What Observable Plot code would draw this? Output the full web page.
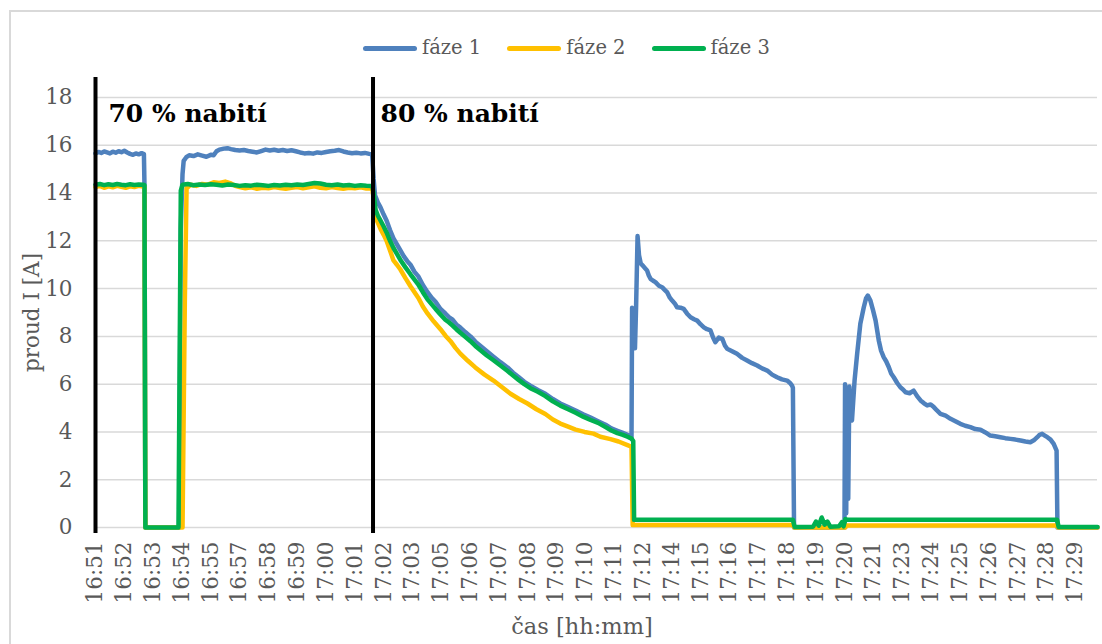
<!DOCTYPE html>
<html>
<head>
<meta charset="utf-8">
<script src="https://cdn.jsdelivr.net/npm/d3@7"></script>
<script src="https://cdn.jsdelivr.net/npm/@observablehq/plot@0.6"></script>
<style>
  html, body { margin: 0; padding: 0; background: #fff; }
  body { width: 1102px; height: 644px; position: relative; overflow: hidden; font-family: "DejaVu Serif", serif; color: #595959; }
  #frame { position: absolute; left: 9px; top: 10px; width: 1110px; height: 650px; border: 2px solid #d9d9d9; box-sizing: border-box; }
  #legend { position: absolute; left: 363px; top: 37px; display: flex; align-items: center; font-size: 19.5px; line-height: 22px; }
  #legend .item { display: flex; align-items: center; margin-right: 26px; }
  #legend .sw { width: 54px; height: 5px; border-radius: 3px; margin-right: 5px; }
  #chart { position: absolute; left: 0; top: 70px; }
  #xtitle { position: absolute; left: 582px; top: 613px; transform: translateX(-50%); font-size: 22.5px; line-height: 26px; white-space: nowrap; }
</style>
</head>
<body>
<div id="frame"></div>
<div id="legend"></div>
<div id="chart"></div>
<div id="xtitle"></div>
<script>
// ---- data ----
const seriesNames = ["fáze 1", "fáze 2", "fáze 3"];
const seriesColors = ["#4f81bd", "#ffc000", "#00b050"];
const tickLabels = ["16:51","16:52","16:53","16:54","16:55","16:57","16:58","16:59","17:00","17:01",
  "17:02","17:03","17:05","17:06","17:07","17:08","17:09","17:10","17:11","17:12",
  "17:14","17:15","17:16","17:17","17:18","17:19","17:20","17:21","17:23","17:24",
  "17:25","17:26","17:27","17:28","17:29"];
const yTicks = [0, 2, 4, 6, 8, 10, 12, 14, 16, 18];
const xTitle = "čas [hh:mm]";
const yTitle = "proud I [A]";
const markerTimes = [0, 9.63];
const markerSpan = [-0.25, 18.84];
const annotations = [
  {t: 0.45, I: 17.3, text: "70 % nabití"},
  {t: 9.89, I: 17.3, text: "80 % nabití"}
];

// [time slot, current A]
const phase1 = [[0,15.66],[0.1,15.72],[0.2,15.68],[0.3,15.74],[0.4,15.7],[0.5,15.66],[0.6,15.73],[0.7,15.69],[0.8,15.75],[0.9,15.71],[1.0,15.77],[1.1,15.7],[1.2,15.64],[1.3,15.6],[1.4,15.66],[1.5,15.62],[1.6,15.67],[1.68,15.63],[1.7,14.3],[1.73,0],
[2.9,0],[2.96,12.5],[3.02,14.8],[3.06,15.35],[3.15,15.5],[3.25,15.58],[3.4,15.55],[3.55,15.62],[3.7,15.57],[3.85,15.52],[4.0,15.6],[4.1,15.58],[4.2,15.75],[4.3,15.82],[4.45,15.86],[4.58,15.88],[4.7,15.84],[4.85,15.8],[5.0,15.78],[5.15,15.8],[5.3,15.76],[5.45,15.73],[5.6,15.7],[5.75,15.76],[5.9,15.82],[6.05,15.78],[6.2,15.81],[6.35,15.77],[6.5,15.8],[6.65,15.76],[6.8,15.79],[6.95,15.75],[7.1,15.7],[7.25,15.66],[7.4,15.68],[7.55,15.65],[7.7,15.7],[7.85,15.68],[8.0,15.72],[8.15,15.75],[8.3,15.77],[8.45,15.8],[8.6,15.74],[8.75,15.7],[8.9,15.67],[9.05,15.69],[9.2,15.66],[9.35,15.68],[9.5,15.64],[9.6,15.62],
[9.65,14.6],[9.7,13.9],[9.8,13.6],[9.89,13.4],[10.0,13.1],[10.1,12.85],[10.22,12.45],[10.34,12.1],[10.46,11.85],[10.58,11.6],[10.7,11.35],[10.82,11.15],[10.93,11.0],[11.07,10.7],[11.21,10.5],[11.36,10.15],[11.52,9.85],[11.66,9.62],[11.8,9.45],[11.97,9.15],[12.14,8.96],[12.27,8.8],[12.39,8.7],[12.52,8.5],[12.66,8.37],[12.83,8.18],[13.01,8.0],[13.18,7.78],[13.36,7.6],[13.58,7.38],[13.81,7.15],[14.05,6.92],[14.3,6.7],[14.49,6.48],[14.68,6.3],[14.88,6.1],[15.09,5.94],[15.35,5.76],[15.61,5.6],[15.87,5.38],[16.13,5.19],[16.4,5.04],[16.66,4.9],[16.92,4.74],[17.18,4.6],[17.44,4.45],[17.7,4.3],[17.9,4.15],[18.11,4.05],[18.3,3.96],[18.46,3.88],[18.56,3.8],
[18.6,3.72],[18.62,9.2],[18.68,9.0],[18.72,7.5],[18.76,9.3],[18.81,12.2],[18.86,11.4],[18.92,11.05],[19.0,10.95],[19.07,10.85],[19.14,10.76],[19.2,10.55],[19.26,10.41],[19.35,10.33],[19.43,10.27],[19.55,10.12],[19.66,10.06],[19.75,9.95],[19.84,9.84],[19.93,9.62],[20.01,9.5],[20.1,9.38],[20.18,9.22],[20.3,9.2],[20.41,9.15],[20.53,8.95],[20.65,8.8],[20.77,8.72],[20.88,8.66],[21.0,8.5],[21.11,8.38],[21.22,8.3],[21.34,8.25],[21.43,7.95],[21.51,7.76],[21.63,7.95],[21.75,7.9],[21.84,7.62],[21.92,7.48],[22.09,7.38],[22.26,7.27],[22.44,7.1],[22.61,6.99],[22.78,6.88],[22.96,6.78],[23.13,6.66],[23.31,6.57],[23.48,6.4],[23.65,6.29],[23.82,6.2],[24.0,6.15],[24.1,6.05],[24.17,5.94],[24.2,5.85],[24.24,0],
[25.99,0],[26.01,6.0],[26.05,0.6],[26.08,5.8],[26.12,1.2],[26.16,5.9],[26.2,4.6],[26.25,4.48],[26.34,6.15],[26.43,7.27],[26.54,8.53],[26.66,9.22],[26.74,9.6],[26.8,9.71],[26.89,9.5],[26.98,9.1],[27.07,8.66],[27.18,7.83],[27.26,7.4],[27.35,7.13],[27.44,6.95],[27.53,6.71],[27.61,6.45],[27.7,6.29],[27.82,6.05],[27.93,5.87],[28.02,5.78],[28.11,5.66],[28.25,5.62],[28.39,5.73],[28.51,5.5],[28.63,5.32],[28.75,5.2],[28.86,5.11],[28.98,5.15],[29.09,5.04],[29.2,4.9],[29.32,4.76],[29.5,4.68],[29.67,4.55],[29.84,4.45],[30.01,4.34],[30.18,4.26],[30.36,4.2],[30.53,4.12],[30.71,4.09],[30.88,3.98],[31.05,3.85],[31.22,3.82],[31.4,3.78],[31.57,3.74],[31.75,3.71],[31.92,3.68],[32.1,3.64],[32.27,3.6],[32.44,3.57],[32.56,3.65],[32.68,3.78],[32.76,3.88],[32.85,3.92],[32.94,3.85],[33.03,3.78],[33.14,3.68],[33.25,3.5],[33.35,3.22],[33.38,0],[34.77,0]];

const phase2 = [[0,14.25],[0.15,14.3],[0.3,14.22],[0.45,14.28],[0.6,14.24],[0.75,14.3],[0.9,14.26],[1.05,14.22],[1.2,14.28],[1.35,14.25],[1.5,14.3],[1.65,14.27],[1.7,14.25],[1.73,0],
[3.02,0],[3.1,9.5],[3.16,14.2],[3.3,14.35],[3.5,14.3],[3.7,14.38],[3.9,14.35],[4.1,14.45],[4.3,14.42],[4.5,14.48],[4.7,14.4],[4.85,14.3],[5.0,14.25],[5.2,14.2],[5.4,14.24],[5.6,14.18],[5.8,14.22],[6.0,14.2],[6.2,14.25],[6.4,14.21],[6.6,14.18],[6.8,14.22],[7.0,14.25],[7.2,14.2],[7.4,14.24],[7.6,14.28],[7.8,14.22],[8.0,14.2],[8.2,14.25],[8.4,14.21],[8.6,14.18],[8.8,14.22],[9.0,14.2],[9.2,14.24],[9.4,14.19],[9.6,14.2],
[9.65,13.8],[9.72,12.97],[9.8,12.75],[9.89,12.5],[10.0,12.25],[10.1,12.0],[10.22,11.6],[10.34,11.18],[10.46,11.0],[10.58,10.8],[10.75,10.45],[10.93,10.1],[11.07,9.85],[11.21,9.6],[11.36,9.25],[11.52,8.96],[11.74,8.62],[11.97,8.3],[12.15,8.02],[12.32,7.8],[12.49,7.52],[12.66,7.28],[12.92,6.98],[13.18,6.7],[13.5,6.4],[13.81,6.15],[14.1,5.88],[14.4,5.6],[14.7,5.38],[14.99,5.19],[15.3,4.95],[15.61,4.75],[15.87,4.52],[16.13,4.35],[16.4,4.22],[16.66,4.1],[16.97,4.0],[17.28,3.93],[17.52,3.8],[17.87,3.7],[18.15,3.6],[18.46,3.45],[18.6,3.38],[18.64,0.1],[24.2,0.1],[24.25,0],[26.02,0],[26.06,0.08],[33.37,0.08],[33.4,0],[34.77,0]];

const phase3 = [[0,14.35],[0.15,14.38],[0.3,14.33],[0.45,14.37],[0.6,14.34],[0.75,14.38],[0.9,14.35],[1.05,14.33],[1.2,14.37],[1.35,14.34],[1.5,14.36],[1.65,14.35],[1.7,14.33],[1.73,0],
[2.88,0],[2.96,14.1],[3.02,14.35],[3.2,14.38],[3.4,14.33],[3.6,14.36],[3.8,14.34],[4.0,14.37],[4.2,14.35],[4.4,14.32],[4.6,14.36],[4.8,14.34],[5.0,14.3],[5.2,14.33],[5.4,14.31],[5.6,14.35],[5.8,14.33],[6.0,14.3],[6.2,14.34],[6.4,14.32],[6.6,14.35],[6.8,14.33],[7.0,14.36],[7.2,14.34],[7.4,14.38],[7.6,14.42],[7.8,14.4],[8.0,14.35],[8.2,14.33],[8.4,14.36],[8.6,14.32],[8.8,14.34],[9.0,14.3],[9.2,14.33],[9.4,14.31],[9.6,14.3],
[9.65,14.0],[9.72,13.3],[9.8,13.05],[9.89,12.85],[10.0,12.6],[10.1,12.35],[10.22,12.0],[10.34,11.7],[10.46,11.45],[10.58,11.2],[10.75,10.9],[10.93,10.6],[11.07,10.38],[11.21,10.15],[11.36,9.85],[11.52,9.55],[11.66,9.35],[11.8,9.15],[11.97,8.92],[12.14,8.7],[12.27,8.58],[12.39,8.45],[12.52,8.3],[12.66,8.15],[12.83,7.98],[13.01,7.8],[13.18,7.6],[13.36,7.42],[13.58,7.2],[13.81,7.0],[14.05,6.78],[14.3,6.55],[14.49,6.36],[14.68,6.18],[14.88,6.0],[15.09,5.83],[15.35,5.68],[15.61,5.5],[15.87,5.28],[16.13,5.1],[16.4,4.95],[16.66,4.8],[16.92,4.64],[17.18,4.5],[17.44,4.38],[17.7,4.2],[17.9,4.06],[18.11,3.95],[18.3,3.88],[18.46,3.8],[18.6,3.72],[18.66,3.62],[18.69,0.32],[24.2,0.32],[24.26,0.02],[24.9,0.03],[25.0,0.25],[25.1,0.08],[25.2,0.42],[25.3,0.12],[25.4,0.25],[25.5,0.03],[25.8,0.05],[25.9,0.22],[25.96,0.05],[26.02,0.35],[26.1,0.32],[33.37,0.32],[33.42,0.02],[34.77,0.02]];

const series = [phase1, phase2, phase3];

// ---- legend ----
const legend = document.getElementById("legend");
seriesNames.forEach((name, i) => {
  const item = document.createElement("div");
  item.className = "item";
  const sw = document.createElement("span");
  sw.className = "sw";
  sw.style.background = seriesColors[i];
  const tx = document.createElement("span");
  tx.textContent = name;
  item.appendChild(sw); item.appendChild(tx);
  legend.appendChild(item);
});
document.getElementById("xtitle").textContent = xTitle;

// ---- chart ----
const lineMarks = series.map((s, i) => Plot.line(s, {
  x: d => d[0], y: d => d[1], stroke: seriesColors[i], strokeWidth: 4.5,
  strokeLinejoin: "round", strokeLinecap: "round"
}));

const serifFont = "'DejaVu Serif', serif";
const chart = Plot.plot({
  width: 1102,
  height: 540,
  marginLeft: 95,
  marginRight: 5,
  marginTop: 27,
  marginBottom: 83,
  style: {fontFamily: serifFont, fontSize: "21.5px", color: "#595959", background: "transparent", overflow: "visible"},
  x: {domain: [0, 34.77], ticks: d3.range(tickLabels.length), tickFormat: i => tickLabels[i], tickRotate: -90, tickSize: 0, tickPadding: 14, label: null},
  y: {domain: [0, 18], ticks: yTicks, tickSize: 0, tickPadding: 23, label: null},
  marks: [
    Plot.gridY(yTicks, {stroke: "#d9d9d9", strokeOpacity: 1, strokeWidth: 1.5}),
    ...lineMarks,
    Plot.ruleX(markerTimes, {x: d => d, y1: () => markerSpan[0], y2: () => markerSpan[1], stroke: "#000", strokeWidth: 4}),
    Plot.text(annotations, {x: "t", y: "I", text: "text", textAnchor: "start", fontWeight: "bold", fontSize: 25, fill: "#000", fontFamily: serifFont}),
    Plot.text([yTitle], {frameAnchor: "left", textAnchor: "middle", dx: -63, rotate: -90, fontSize: 21.5, fill: "#595959"})
  ]
});
document.getElementById("chart").appendChild(chart);
</script>
</body>
</html>
